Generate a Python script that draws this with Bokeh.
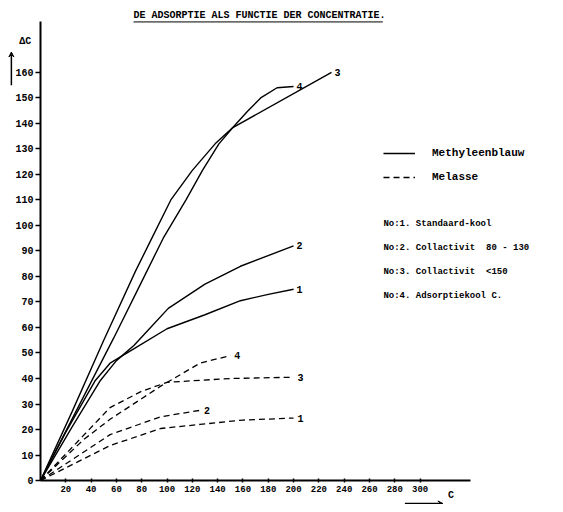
from bokeh.plotting import figure
from bokeh.models import (Range1d, FixedTicker, Label, Arrow, VeeHead, Legend, LegendItem)
from bokeh.core.properties import value
from bokeh.embed import file_html
from bokeh.resources import INLINE

# ---- data ----
# Methyleenblauw (solid)
mb1_x = [0, 20, 43, 55, 75, 100, 130, 158, 180, 200]
mb1_y = [0, 19, 39, 46, 52, 59.5, 65, 70.5, 73, 75]
mb2_x = [0, 25, 47, 60, 74, 87, 101, 130, 158, 200]
mb2_y = [0, 21, 39, 47, 53, 60, 67.5, 77, 84, 92]
mb3_x = [0, 25, 50, 75, 89, 103, 120, 138, 152, 230]
mb3_y = [0, 27, 55, 82, 96, 110, 121.6, 132, 138.4, 160]
mb4_x = [0, 30, 58, 80, 97, 103, 115, 128, 141, 152, 164, 174, 187, 200]
mb4_y = [0, 29, 56, 78, 95, 100, 110, 121.6, 132, 138.4, 145, 150, 154, 154.5]
# Melasse (dashed)
me1_x = [0, 55, 95, 126, 160, 200]
me1_y = [0, 13.7, 20.4, 22, 23.7, 24.5]
me2_x = [0, 55, 95, 126]
me2_y = [0, 18, 25, 27.5]
me3_x = [0, 55, 80, 100, 150, 200]
me3_y = [0, 28.6, 35, 38.5, 40, 40.5]
me4_x = [0, 34, 55, 95, 126, 150]
me4_y = [0, 16, 24, 37, 46, 49]

curve_names = ["1", "2", "3", "4"]
y_ticks = list(range(0, 170, 10))
x_ticks = list(range(20, 320, 20))

title_text = "DE ADSORPTIE ALS FUNCTIE DER CONCENTRATIE."
legend_labels = ["Methyleenblauw", "Melasse"]
NB = "\u00a0"
key_lines = ["No:1. Standaard-kool",
             "No:2. Collactivit" + NB + NB + "80 - 130",
             "No:3. Collactivit" + NB + NB + "<150",
             "No:4. Adsorptiekool C."]
key_y = [100.4, 91, 81.6, 72.2]

FONT = "Liberation Mono"

W, H = 555, 504
p = figure(width=W, height=H, output_backend="svg", toolbar_location=None,
           x_range=Range1d(-31.6, 407), y_range=Range1d(-9.4, 188.2),
           min_border_left=0, min_border_right=0, min_border_top=0,
           min_border_bottom=0)
p.outline_line_color = None
p.xgrid.visible = False
p.ygrid.visible = False
p.background_fill_color = "white"
p.border_fill_color = "white"

# axes
for ax in (p.xaxis[0], p.yaxis[0]):
    ax.fixed_location = 0
    ax.axis_line_width = 2
    ax.axis_line_color = "black"
    ax.major_tick_line_color = "black"
    ax.major_tick_line_width = 1.5
    ax.minor_tick_line_color = None
    ax.major_label_text_font = FONT
    ax.major_label_text_font_style = "bold"
    ax.major_label_text_color = "black"
p.yaxis[0].ticker = FixedTicker(ticks=y_ticks)
p.yaxis[0].bounds = (0, 180)
p.yaxis[0].major_tick_in = 0
p.yaxis[0].major_tick_out = 5
p.yaxis[0].major_label_standoff = 2
p.yaxis[0].major_label_text_font_size = "10px"
p.xaxis[0].ticker = FixedTicker(ticks=x_ticks)
p.xaxis[0].bounds = (0, 340)
p.xaxis[0].major_tick_in = 2
p.xaxis[0].major_tick_out = 2
p.xaxis[0].major_label_standoff = 3
p.xaxis[0].major_label_text_font_size = "9px"

solid = [(mb1_x, mb1_y), (mb2_x, mb2_y), (mb3_x, mb3_y), (mb4_x, mb4_y)]
dashed = [(me1_x, me1_y), (me2_x, me2_y), (me3_x, me3_y), (me4_x, me4_y)]

solid_r = []
for (xs, ys), name in zip(solid, curve_names):
    r = p.line(xs, ys, line_color="black", line_width=1.4)
    solid_r.append(r)
    p.text(x=[xs[-1]], y=[ys[-1]], text=[name], x_offset=3,
           text_font=value(FONT), text_font_style="bold", text_font_size="10px",
           text_baseline="middle", text_color="black")
dashed_r = []
for (xs, ys), name in zip(dashed, curve_names):
    r = p.line(xs, ys, line_color="black", line_width=1.3, line_dash="6 4")
    dashed_r.append(r)
    p.text(x=[xs[-1]], y=[ys[-1]], text=[name], x_offset=4,
           text_font=value(FONT), text_font_style="bold", text_font_size="10px",
           text_baseline="middle", text_color="black")

legend = Legend(items=[LegendItem(label=legend_labels[0], renderers=[solid_r[0]]),
                       LegendItem(label=legend_labels[1], renderers=[dashed_r[0]])],
                location=(383, 317), padding=0, margin=0, spacing=4,
                glyph_width=32, glyph_height=20, label_height=20, label_standoff=17,
                border_line_color=None, background_fill_alpha=0,
                label_text_font=FONT, label_text_font_style="bold",
                label_text_color="black", label_text_font_size="11px")
p.add_layout(legend, "center")

for t, yy in zip(key_lines, key_y):
    p.add_layout(Label(x=271, y=yy, text=t, text_font=FONT, text_font_style="bold",
                       text_font_size="9px", text_baseline="middle", text_color="black"))

# title with underline
p.add_layout(Label(x=73.5, y=182.4, text=title_text, text_font=FONT,
                   text_font_style="bold", text_font_size="10px",
                   text_baseline="middle", text_color="black"))
p.segment(x0=[73.5], y0=[179.8], x1=[270.5], y1=[179.8], line_color="black", line_width=1)

# axis captions
p.add_layout(Label(x=-12, y=172, text="\u0394C", text_font=FONT, text_font_style="bold",
                   text_font_size="10px", text_align="center", text_baseline="middle",
                   text_color="black"))
p.add_layout(Arrow(x_start=-23, y_start=155, x_end=-23, y_end=168,
                   line_width=1.5, end=VeeHead(size=5, fill_color="black")))
p.add_layout(Arrow(x_start=288, y_start=-9, x_end=318, y_end=-9,
                   line_width=1.5, end=VeeHead(size=5, fill_color="black")))
p.add_layout(Label(x=322, y=-6, text="C", text_font=FONT, text_font_style="bold",
                   text_font_size="10px", text_baseline="middle", text_color="black"))

open("out.html", "w").write(file_html(p, INLINE))
